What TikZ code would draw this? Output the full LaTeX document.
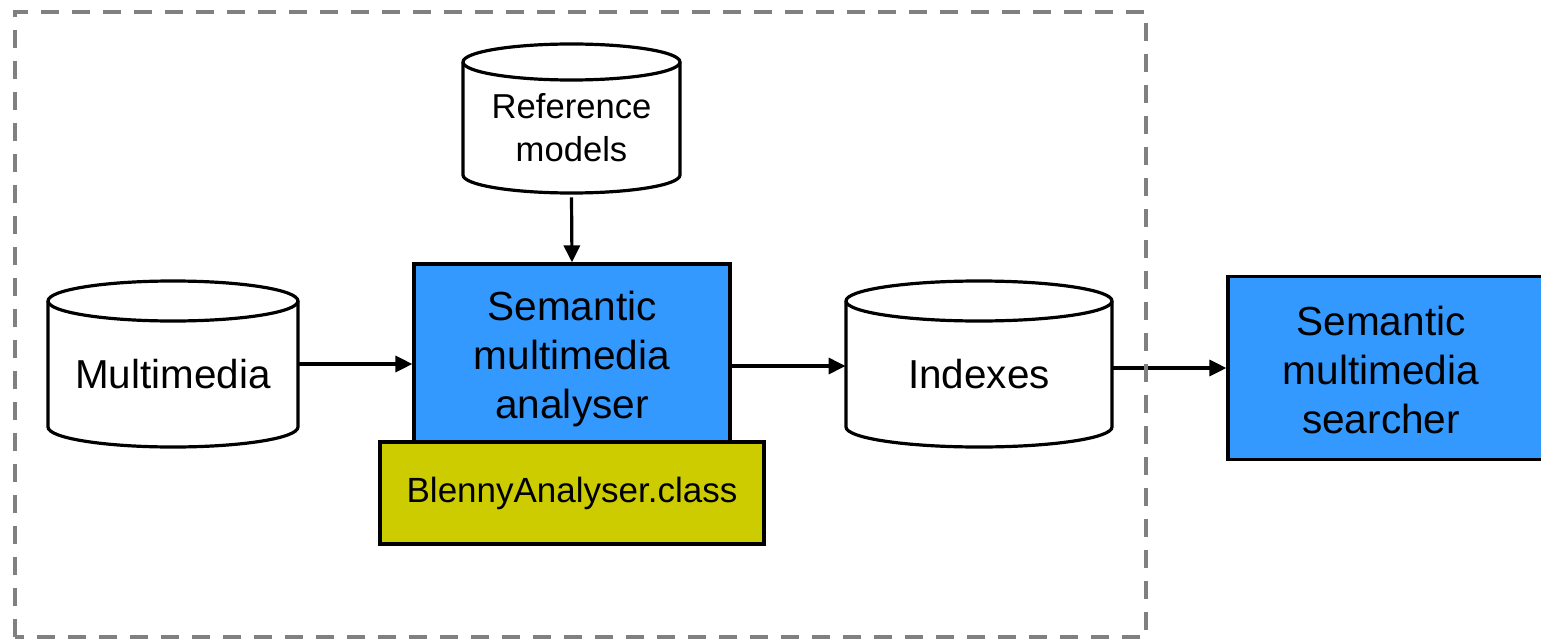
\documentclass[tikz,border=0pt]{standalone}
\usepackage{fontspec}
\setmainfont{Liberation Sans}
\usetikzlibrary{arrows.meta}
\definecolor{boxblue}{HTML}{3399FF}
\definecolor{boxyellow}{HTML}{CCCC00}
\definecolor{dashgray}{HTML}{808080}
\tikzset{
  line/.style={draw=black,line width=1.6pt},
  arr/.style={line,-{Triangle[length=8.5pt,width=8pt]}},
  bluebox/.style={line,fill=boxblue,inner sep=0pt,align=center,font=\fontsize{20.3}{24.5}\selectfont},
  yellowbox/.style={line,fill=boxyellow,inner sep=0pt,font=\fontsize{17.5}{20}\selectfont},
  cyltext/.style={inner sep=0pt,align=center},
  frame/.style={draw=dashgray,line width=1.6pt,dash pattern=on 9pt off 6.5pt},
}
% name, x1, ytop, x2, ybottom, ry(px), text, font
\newcommand\mycyl[8]{%
  \pgfmathsetmacro\myrx{(#4-#2)/4}%
  \pgfmathsetmacro\myry{#6/2}%
  \draw[line,fill=white] (#2,#3+#6) -- (#2,#5-#6)
     arc[start angle=180,end angle=360,x radius=\myrx pt,y radius=\myry pt]
     -- (#4,#3+#6)
     arc[start angle=0,end angle=180,x radius=\myrx pt,y radius=\myry pt] -- cycle;
  \draw[line] (#2,#3+#6)
     arc[start angle=180,end angle=360,x radius=\myrx pt,y radius=\myry pt];
  \node[cyltext,font=#8,minimum width={(#4-#2)*0.5pt},minimum height={(#5-#3-#6)*0.5pt}]
     (#1) at ({(#2+#4)/2},{(#3+#6+#5)/2}) {#7};
}
\begin{document}
\begin{tikzpicture}[x=0.5pt,y=-0.5pt]
\clip (0,0) rectangle (1541,642);
\useasboundingbox (0,0) rectangle (1541,642);

\mycyl{refm}{463}{44}{680}{193}{18}{Reference\\models}{\fontsize{17.3}{21.5}\selectfont}
\mycyl{multi}{48}{281}{298}{447}{20}{Multimedia}{\fontsize{20.2}{24}\selectfont}
\mycyl{idx}{846}{281}{1112}{447}{20}{Indexes}{\fontsize{20.2}{24}\selectfont}

\node[bluebox,minimum width=158pt,minimum height=89pt] (anal) at (572,353) {};
\node[inner sep=0pt,align=center,font=\fontsize{20.3}{24.5}\selectfont] (analtext) at (572,359) {Semantic\\multimedia\\analyser};
\node[yellowbox,minimum width=192pt,minimum height=51pt] (blenny) at (572,493) {BlennyAnalyser.class};

\node[line,fill=boxblue,minimum width=170pt,minimum height=91.5pt,inner sep=0pt] (search) at (1398,368) {};
\node[inner sep=0pt,align=center,font=\fontsize{20.3}{24.5}\selectfont] (searchtext) at (1381,370) {Semantic\\multimedia\\searcher};

\coordinate (ya) at (0,364);
\coordinate (yb) at (0,366);
\coordinate (yc) at (0,368);
\draw[arr] (refm.south) ++(0,4) -- (anal.north);
\draw[arr] (multi.east |- ya) -- (anal.west |- ya);
\draw[arr] (anal.east |- yb) -- (idx.west |- yb);
\draw[arr] (idx.east |- yc) -- (search.west |- yc);

\draw[frame] (15,637) -- (15,12) -- (1146,12) -- (1146,637) -- cycle;
\end{tikzpicture}
\end{document}
